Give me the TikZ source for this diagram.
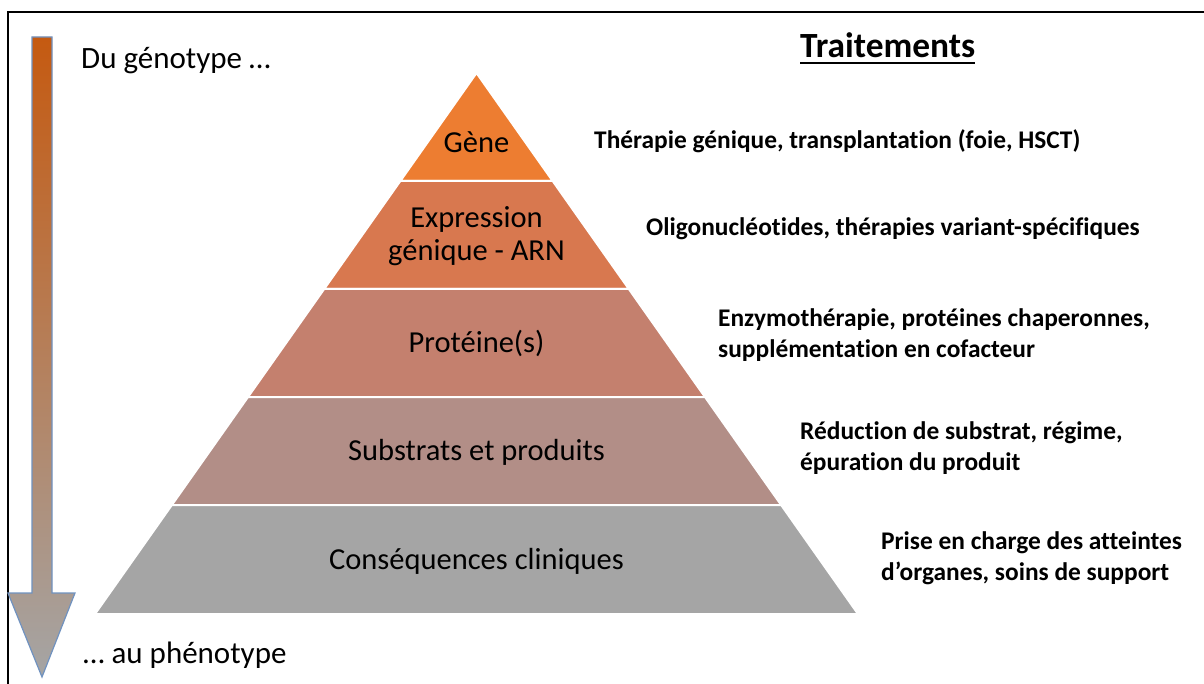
\documentclass[tikz,border=0pt]{standalone}
\usepackage{fontspec}
\setmainfont{Carlito}[Ligatures=NoCommon]
\definecolor{cA}{HTML}{ED7D31}
\definecolor{cB}{HTML}{D8784F}
\definecolor{cC}{HTML}{C4806E}
\definecolor{cD}{HTML}{B28E87}
\definecolor{cE}{HTML}{A5A5A5}
\definecolor{arrtop}{HTML}{C55A11}
\definecolor{arrline}{HTML}{7092C0}
\begin{document}
\begin{tikzpicture}[x=1pt,y=-1pt,
  layer/.style={draw=white,line width=2pt,line join=miter},
  lvl/.style={font=\fontsize{30.5}{33}\selectfont,align=center,inner sep=0pt,text=black},
  side/.style={font=\fontsize{31}{34}\selectfont,inner sep=0pt,anchor=base west},
  treat/.style={font=\bfseries\fontsize{25.4}{31}\selectfont,inner sep=0pt,anchor=base west,align=left}]
\useasboundingbox (0,0) rectangle (1204,684);
\fill[white] (0,0) rectangle (1204,684);
% frame
\draw[line width=2.4pt,line cap=rect] (8,684) -- (8,12) -- (1204,12);
% arrow
\path[draw=arrline,line width=1.2pt,top color=arrtop,bottom color=cE,line join=miter]
  (32,37) -- (52,37) -- (52,593) -- (75,593) -- (42,677) -- (8,593) -- (32,593) -- cycle;
% pyramid
\path[layer,fill=cA] (476.5,73) -- (552.66,181) -- (400.34,181) -- cycle;
\path[layer,fill=cB] (400.34,181) -- (552.66,181) -- (628.82,289) -- (324.18,289) -- cycle;
\path[layer,fill=cC] (324.18,289) -- (628.82,289) -- (704.98,397) -- (248.02,397) -- cycle;
\path[layer,fill=cD] (248.02,397) -- (704.98,397) -- (781.14,505) -- (171.86,505) -- cycle;
\path[layer,fill=cE] (171.86,505) -- (781.14,505) -- (858,614) -- (95,614) -- cycle;
% level labels
\node[lvl] (gene) at (476.5,142) {Gène};
\node[lvl] (arn) at (476.5,236.5) {Expression\\génique - ARN};
\node[lvl] (prot) at (476.5,343) {Protéine(s)};
\node[lvl] (subs) at (476.5,452) {Substrats et produits};
\node[lvl] (clin) at (476.5,561) {Conséquences cliniques};
% side labels
\node[side] (geno) at (81,69) {Du génotype …};
\node[side] (pheno) at (83,663) {… au phénotype};
% title
\node[font=\bfseries\fontsize{35.4}{40}\selectfont,inner sep=0pt,anchor=base west] (title) at (800,58) {Traitements};
\draw[line width=2.2pt] ([yshift=-5pt]title.base west) -- ([yshift=-5pt]title.base east);
% treatments (base anchor = baseline of the last line)
\node[treat] (t1) at (594,149) {Thérapie génique, transplantation (foie, HSCT)};
\node[treat] (t2) at (646,236) {Oligonucléotides, thérapies variant-spécifiques};
\node[treat] (t3) at (718,357) {Enzymothérapie, protéines chaperonnes,\\supplémentation en cofacteur};
\node[treat] (t4) at (800,470) {Réduction de substrat, régime,\\épuration du produit};
\node[treat] (t5) at (881,580) {Prise en charge des atteintes\\d’organes, soins de support};
\end{tikzpicture}
\end{document}
